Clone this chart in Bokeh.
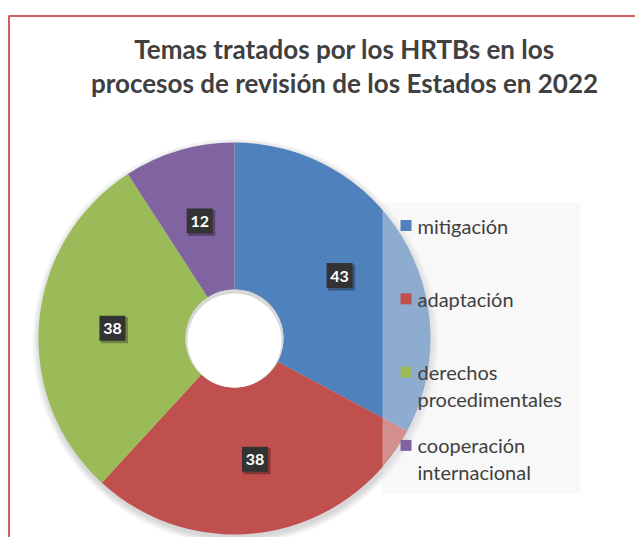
import numpy as np
from bokeh.plotting import figure
from bokeh.models import Range1d
from bokeh.core.properties import value
from bokeh.embed import file_html
from bokeh.resources import INLINE

# ---- data ----
categories = ["mitigación", "adaptación", "derechos procedimentales", "cooperación internacional"]
counts = [43, 38, 38, 12]
colors = ["#4f81bd", "#c0504d", "#9bbb59", "#8064a2"]
title_lines = ["Temas tratados por los HRTBs en los",
               "procesos de revisión de los Estados en 2022"]

# ---- layout ----
W, H = 635, 537
CX, CY = 234, 199
R_OUT, R_IN = 196, 49
FONT = "Lato"
TXT = "#404040"

p = figure(width=W, height=H, x_range=Range1d(0, W), y_range=Range1d(0, H),
           output_backend="svg", toolbar_location=None, min_border=0)
p.axis.visible = False
p.grid.visible = False
p.outline_line_color = None
p.background_fill_color = "white"
p.border_fill_color = "white"

# frame border (top and left visible)
p.line(x=[8.5, 8.5, W], y=[0, 521.5, 521.5], line_color="#d0625e", line_width=2)

# title
p.text(x=[344, 344], y=[489, 455], text=title_lines, text_font=value(FONT),
       text_font_style="bold", text_font_size="26px", text_color=TXT,
       text_align="center", text_baseline="alphabetic")

# soft shadow under the donut
for k in range(1, 9):
    p.circle(x=[CX + 1], y=[CY - 3], radius=R_OUT + k * 0.9, fill_color="black",
             fill_alpha=0.018, line_color=None)

# donut
counts_arr = np.array(counts, dtype=float)
total = counts_arr.sum()
cum = np.concatenate([[0], np.cumsum(counts_arr)])
start = np.pi / 2 - 2 * np.pi * cum[:-1] / total
end = np.pi / 2 - 2 * np.pi * cum[1:] / total
p.annular_wedge(x=CX, y=CY, inner_radius=R_IN, outer_radius=R_OUT,
                start_angle=list(start), end_angle=list(end), direction="clock",
                fill_color=colors, line_color=None)

# hole inner shadow
p.circle(x=[CX], y=[CY], radius=R_IN, fill_color="#d8d8d8", line_color=None)
p.circle(x=[CX], y=[CY - 2], radius=R_IN - 2, fill_color="white", line_color=None)

# data labels
mid = (start + end) / 2
rm = (R_IN + R_OUT) / 2
lx = CX + rm * np.cos(mid)
ly = CY + rm * np.sin(mid)
p.rect(x=list(lx + 2), y=list(ly - 2), width=27, height=26, fill_color="black",
       fill_alpha=0.3, line_color=None)
p.rect(x=list(lx), y=list(ly), width=26, height=25, fill_color="#333333",
       line_color=None)
p.text(x=list(lx), y=list(ly - 0.5), text=[str(c) for c in counts], text_font=value(FONT),
       text_font_style="bold", text_font_size="16px", text_color="white",
       text_align="center", text_baseline="middle")

# legend
p.quad(left=[382], right=[580], bottom=[44], top=[335], fill_color="#eeeeee",
       fill_alpha=0.4, line_color=None)
ey0, estep = 312, 73.3
sq_x, sq_y, tx, ty, tt = [], [], [], [], []
for i, name in enumerate(categories):
    y0 = ey0 - i * estep
    sq_x.append(405.5)
    sq_y.append(y0)
    for j, part in enumerate(name.split(" ")):
        tx.append(417)
        ty.append(y0 - j * 27)
        tt.append(part)
p.rect(x=sq_x, y=sq_y, width=11, height=11, fill_color=colors, line_color=None)
p.text(x=tx, y=ty, text=tt, text_font=value(FONT), text_font_size="20px",
       text_color=TXT, text_align="left", text_baseline="middle")

open("out.html", "w").write(file_html(p, INLINE))
